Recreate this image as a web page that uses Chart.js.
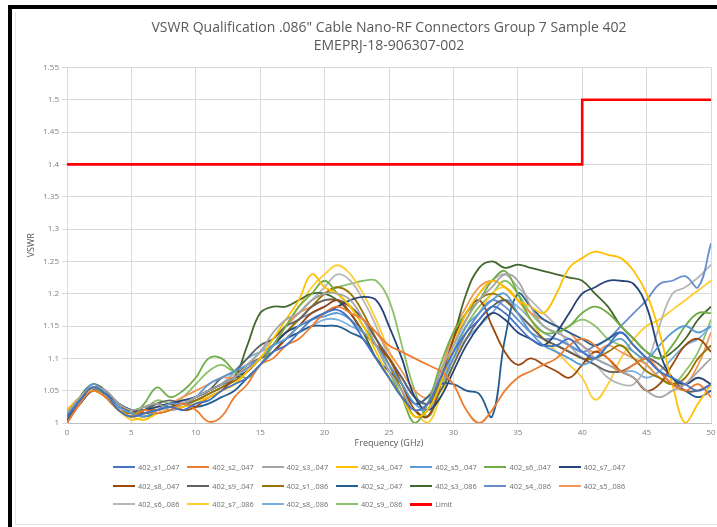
<!DOCTYPE html>
<html>
<head>
<meta charset="utf-8">
<script src="https://cdn.jsdelivr.net/npm/chart.js@4.4.1/dist/chart.umd.min.js"></script>
<style>
  html, body { margin: 0; padding: 0; background: #fff; }
  body { width: 717px; height: 527px; position: relative; overflow: hidden; font-family: "Open Sans", sans-serif; }
  #moldura { position: absolute; left: 8px; top: 5px; width: 720px; height: 530px; border-left: 4px solid #000; border-top: 4px solid #000; }
  #interno { position: absolute; left: 15px; top: 12px; width: 710px; height: 512px; border-left: 1px solid #e4e4e4; border-bottom: 1px solid #e4e4e4; }
  #grafico { position: absolute; left: 0; top: 0; }
  #legenda { position: absolute; left: 113px; top: 458px; display: grid; grid-template-columns: repeat(7, 74.3px); }
  .item { display: flex; align-items: center; height: 18.5px; font-size: 7.4px; color: #6e6e6e; white-space: nowrap; }
  .linha { width: 22px; height: 2px; margin-right: 3px; flex: none; }
</style>
</head>
<body>
<div id="moldura"></div>
<div id="interno"></div>
<canvas id="grafico" width="717" height="527"></canvas>
<div id="legenda"></div>
<script>
const frequencias = [0,1,2,3,4,5,6,7,8,9,10,11,12,13,14,15,16,17,18,19,20,21,22,23,24,25,
  26,27,28,29,30,31,32,33,34,35,36,37,38,39,40,41,42,43,44,45,46,47,48,49,50];

const nomes = ['402_s1_.047','402_s2_.047','402_s3_.047','402_s4_.047','402_s5_.047','402_s6_.047','402_s7_.047',
  '402_s8_.047','402_s9_.047','402_s1_.086','402_s2_.047','402_s3_.086','402_s4_.086','402_s5_.086',
  '402_s6_.086','402_s7_.086','402_s8_.086','402_s9_.086'];

const cores = ['#4472C4','#ED7D31','#A5A5A5','#FFC000','#5B9BD5','#70AD47','#264478',
  '#9E480E','#636363','#997300','#255E91','#43682B','#698ED0','#F1975A',
  '#B7B7B7','#FFCD33','#7CAFDD','#8CC168'];

// VSWR, um ponto por GHz
const s1_047 = [1.01,1.035,1.055,1.045,1.02,1.01,1.015,1.02,1.025,1.02,1.03, 1.035,1.05,1.06,1.07,1.09,1.11,1.12,1.14,1.16,1.17, 1.175,1.16,1.13,1.1,1.07,1.04,1.02,1.03,1.07,1.11, 1.14,1.16,1.18,1.17,1.15,1.13,1.12,1.12,1.13,1.11, 1.1,1.12,1.14,1.12,1.1,1.08,1.07,1.06,1.05,1.06];
const s2_047 = [1.0,1.03,1.05,1.04,1.02,1.01,1.02,1.015,1.02,1.03,1.02, 1.002,1.01,1.04,1.06,1.09,1.1,1.12,1.13,1.15,1.17, 1.18,1.17,1.16,1.14,1.12,1.11,1.1,1.09,1.08,1.06, 1.02,1.0,1.02,1.05,1.07,1.08,1.09,1.1,1.12,1.13, 1.12,1.1,1.08,1.09,1.1,1.08,1.06,1.05,1.06,1.04];
const s3_047 = [1.015,1.04,1.055,1.05,1.03,1.02,1.025,1.03,1.02,1.03,1.04, 1.05,1.06,1.07,1.09,1.11,1.14,1.16,1.17,1.19,1.2, 1.2,1.19,1.16,1.12,1.08,1.05,1.02,1.03,1.08,1.12, 1.16,1.19,1.21,1.23,1.22,1.18,1.15,1.14,1.13,1.12, 1.1,1.09,1.08,1.07,1.05,1.04,1.05,1.06,1.08,1.1];
const s4_047 = [1.02,1.04,1.05,1.04,1.02,1.01,1.005,1.015,1.02,1.025,1.03, 1.04,1.05,1.06,1.08,1.1,1.13,1.16,1.19,1.23,1.21, 1.2,1.18,1.15,1.11,1.07,1.04,1.01,1.02,1.06,1.12, 1.17,1.2,1.22,1.21,1.19,1.18,1.17,1.2,1.24,1.255, 1.265,1.26,1.255,1.235,1.2,1.14,1.06,1.0,1.03,1.06];
const s5_047 = [1.01,1.035,1.06,1.045,1.025,1.015,1.01,1.02,1.03,1.03,1.04, 1.06,1.07,1.08,1.09,1.1,1.12,1.13,1.15,1.16,1.165, 1.17,1.16,1.14,1.12,1.09,1.06,1.03,1.02,1.06,1.11, 1.15,1.17,1.19,1.2,1.17,1.14,1.12,1.11,1.1,1.09, 1.1,1.12,1.13,1.11,1.1,1.12,1.14,1.15,1.14,1.15];
const s6_047 = [1.01,1.04,1.055,1.04,1.02,1.01,1.03,1.055,1.04,1.05,1.07, 1.1,1.1,1.08,1.07,1.09,1.12,1.15,1.18,1.2,1.22, 1.2,1.18,1.15,1.12,1.08,1.04,1.0,1.03,1.09,1.14, 1.17,1.19,1.22,1.235,1.2,1.16,1.14,1.14,1.15,1.17, 1.18,1.17,1.15,1.13,1.11,1.1,1.12,1.15,1.17,1.17];
const s7_047 = [1.01,1.03,1.05,1.045,1.03,1.02,1.02,1.025,1.03,1.035,1.04, 1.05,1.06,1.07,1.08,1.1,1.12,1.14,1.15,1.16,1.17, 1.18,1.19,1.195,1.19,1.15,1.1,1.04,1.02,1.04,1.08, 1.12,1.15,1.17,1.16,1.14,1.13,1.12,1.14,1.17,1.2, 1.21,1.22,1.22,1.215,1.18,1.11,1.07,1.06,1.07,1.06];
const s8_047 = [1.0,1.03,1.055,1.045,1.025,1.02,1.015,1.02,1.03,1.02,1.025, 1.04,1.05,1.07,1.09,1.1,1.11,1.13,1.15,1.17,1.18, 1.19,1.17,1.14,1.12,1.1,1.06,1.02,1.01,1.06,1.13, 1.17,1.19,1.15,1.11,1.09,1.1,1.09,1.08,1.07,1.09, 1.11,1.1,1.08,1.07,1.05,1.06,1.09,1.12,1.13,1.11];
const s9_047 = [1.015,1.04,1.055,1.05,1.03,1.02,1.02,1.03,1.035,1.03,1.04, 1.05,1.07,1.08,1.1,1.12,1.13,1.15,1.16,1.18,1.19, 1.19,1.18,1.16,1.13,1.1,1.07,1.04,1.03,1.05,1.09, 1.13,1.16,1.18,1.19,1.17,1.15,1.13,1.12,1.11,1.1, 1.09,1.08,1.08,1.09,1.1,1.09,1.07,1.05,1.05,1.06];
const s1_086 = [1.01,1.035,1.05,1.04,1.02,1.015,1.02,1.02,1.025,1.03,1.035, 1.045,1.055,1.065,1.08,1.1,1.12,1.14,1.16,1.18,1.2, 1.21,1.2,1.17,1.13,1.09,1.05,1.01,1.02,1.07,1.12, 1.16,1.19,1.2,1.19,1.17,1.15,1.13,1.12,1.11,1.1, 1.1,1.11,1.12,1.1,1.08,1.07,1.06,1.07,1.1,1.12];
const s2_047b = [1.005,1.03,1.05,1.045,1.03,1.015,1.01,1.015,1.02,1.03,1.025, 1.03,1.04,1.05,1.07,1.09,1.11,1.13,1.14,1.15,1.15, 1.15,1.14,1.13,1.1,1.08,1.06,1.03,1.04,1.06,1.06, 1.05,1.045,1.01,1.13,1.2,1.18,1.16,1.15,1.14,1.13, 1.12,1.13,1.14,1.12,1.1,1.08,1.06,1.05,1.04,1.05];
const s3_086 = [1.01,1.04,1.06,1.05,1.03,1.02,1.025,1.03,1.025,1.03,1.04, 1.05,1.06,1.07,1.12,1.17,1.18,1.18,1.19,1.2,1.2, 1.19,1.17,1.14,1.1,1.07,1.04,1.02,1.01,1.06,1.13, 1.2,1.24,1.25,1.24,1.245,1.24,1.235,1.23,1.225,1.22, 1.2,1.18,1.15,1.13,1.11,1.1,1.11,1.13,1.16,1.18];
const s4_086 = [1.015,1.035,1.05,1.04,1.02,1.01,1.02,1.03,1.02,1.025,1.035, 1.045,1.055,1.07,1.085,1.1,1.12,1.14,1.16,1.17,1.18, 1.19,1.18,1.16,1.13,1.1,1.07,1.04,1.03,1.06,1.1, 1.14,1.17,1.19,1.18,1.16,1.14,1.13,1.13,1.12,1.11, 1.12,1.13,1.15,1.17,1.19,1.215,1.22,1.227,1.21,1.278];
const s5_086 = [1.005,1.03,1.05,1.04,1.02,1.01,1.015,1.025,1.03,1.04,1.05, 1.06,1.07,1.07,1.08,1.1,1.12,1.15,1.17,1.18,1.19, 1.19,1.18,1.16,1.14,1.11,1.08,1.05,1.04,1.08,1.14, 1.18,1.21,1.22,1.21,1.19,1.17,1.16,1.15,1.14,1.12, 1.11,1.12,1.11,1.1,1.09,1.07,1.06,1.06,1.09,1.14];
const s6_086 = [1.02,1.04,1.055,1.045,1.025,1.015,1.02,1.02,1.03,1.035,1.04, 1.05,1.06,1.075,1.09,1.11,1.13,1.15,1.17,1.19,1.21, 1.23,1.22,1.19,1.15,1.1,1.06,1.03,1.04,1.08,1.13, 1.17,1.2,1.22,1.23,1.21,1.19,1.17,1.15,1.12,1.1, 1.09,1.07,1.06,1.06,1.09,1.15,1.2,1.21,1.225,1.245];
const s7_086 = [1.01,1.035,1.05,1.04,1.02,1.005,1.01,1.02,1.03,1.025,1.035, 1.04,1.05,1.06,1.08,1.1,1.12,1.15,1.18,1.21,1.23, 1.244,1.23,1.2,1.16,1.11,1.06,1.02,1.0,1.04,1.09, 1.14,1.17,1.2,1.21,1.19,1.16,1.13,1.11,1.09,1.07, 1.036,1.06,1.1,1.13,1.15,1.16,1.175,1.19,1.205,1.22];
const s8_086 = [1.01,1.03,1.05,1.045,1.03,1.02,1.015,1.02,1.025,1.03,1.04, 1.05,1.06,1.08,1.1,1.11,1.12,1.13,1.14,1.15,1.16, 1.16,1.15,1.14,1.12,1.1,1.07,1.04,1.03,1.06,1.1, 1.13,1.15,1.17,1.19,1.18,1.16,1.14,1.13,1.12,1.11, 1.1,1.09,1.08,1.08,1.07,1.08,1.1,1.12,1.13,1.15];
const s9_086 = [1.015,1.04,1.055,1.04,1.02,1.01,1.02,1.035,1.03,1.04,1.06, 1.08,1.09,1.08,1.09,1.11,1.13,1.15,1.17,1.19,1.2, 1.21,1.215,1.22,1.22,1.19,1.12,1.05,1.01,1.05,1.1, 1.15,1.18,1.2,1.22,1.2,1.17,1.15,1.14,1.15,1.16, 1.15,1.13,1.12,1.11,1.09,1.07,1.06,1.08,1.11,1.16];

const series = [s1_047, s2_047, s3_047, s4_047, s5_047, s6_047, s7_047, s8_047, s9_047,
  s1_086, s2_047b, s3_086, s4_086, s5_086, s6_086, s7_086, s8_086, s9_086];

const limiteFreq = [0, 40, 40, 50];
const limiteVswr = [1.4, 1.4, 1.5, 1.5];
const corLimite = '#FF0000';

const corTexto = '#595959';
const corTicks = '#7f7f7f';
const corGrade = '#d9d9d9';

Chart.defaults.font.family = '"Open Sans", sans-serif';

let chart;
const ctx = document.getElementById("grafico").getContext("2d");

function montarDatasets() {
  const datasets = series.map((valores, i) => ({
    label: nomes[i],
    data: valores.map((v, j) => ({ x: frequencias[j], y: v })),
    borderColor: cores[i],
    backgroundColor: cores[i],
    borderWidth: 1.8,
    pointRadius: 0,
    tension: 0.4
  }));
  datasets.push({
    label: 'Limit',
    data: limiteFreq.map((f, j) => ({ x: f, y: limiteVswr[j] })),
    borderColor: corLimite,
    backgroundColor: corLimite,
    borderWidth: 2.6,
    pointRadius: 0,
    tension: 0
  });
  return datasets;
}

function montarLegenda() {
  const caixa = document.getElementById('legenda');
  chart.data.datasets.forEach(ds => {
    const item = document.createElement('div');
    item.className = 'item';
    const linha = document.createElement('span');
    linha.className = 'linha';
    linha.style.background = ds.borderColor;
    if (ds.label === 'Limit') linha.style.height = '3px';
    item.appendChild(linha);
    item.appendChild(document.createTextNode(ds.label));
    caixa.appendChild(item);
  });
}

chart = new Chart(ctx, {
  type: 'line',
  data: { datasets: montarDatasets() },
  options: {
    responsive: false,
    animation: false,
    layout: { padding: { left: 10, right: 6, top: 0, bottom: 74 } },
    plugins: {
      legend: { display: false },
      tooltip: { enabled: false },
      title: {
        display: true,
        fullSize: false,
        text: ['VSWR Qualification .086" Cable Nano-RF Connectors Group 7 Sample 402', 'EMEPRJ-18-906307-002'],
        color: corTexto,
        font: { size: 14, weight: 'normal', lineHeight: 1.3 },
        padding: { top: 19, bottom: 12 }
      }
    },
    scales: {
      x: {
        type: 'linear',
        min: 0,
        max: 50,
        ticks: { stepSize: 5, color: corTicks, font: { size: 8 }, padding: 5 },
        grid: { color: corGrade, drawTicks: false },
        border: { color: '#bfbfbf' },
        title: { display: true, text: 'Frequency (GHz)', color: corTexto, font: { size: 9 }, padding: { top: 0, bottom: 4 } },
        afterFit: function(scale) { scale.height = 30; scale.paddingRight = 0; }
      },
      y: {
        min: 1,
        max: 1.55,
        ticks: {
          stepSize: 0.05,
          color: corTicks,
          font: { size: 8 },
          padding: 3,
          callback: function(v) { return String(Math.round(v * 100) / 100); }
        },
        grid: { color: corGrade, tickLength: 5 },
        border: { color: corGrade },
        title: { display: true, text: 'VSWR', color: corTexto, font: { size: 9 }, padding: { top: 16, bottom: 0 } },
        afterFit: function(scale) { scale.width = 57; }
      }
    }
  }
});

montarLegenda();
</script>
</body>
</html>
